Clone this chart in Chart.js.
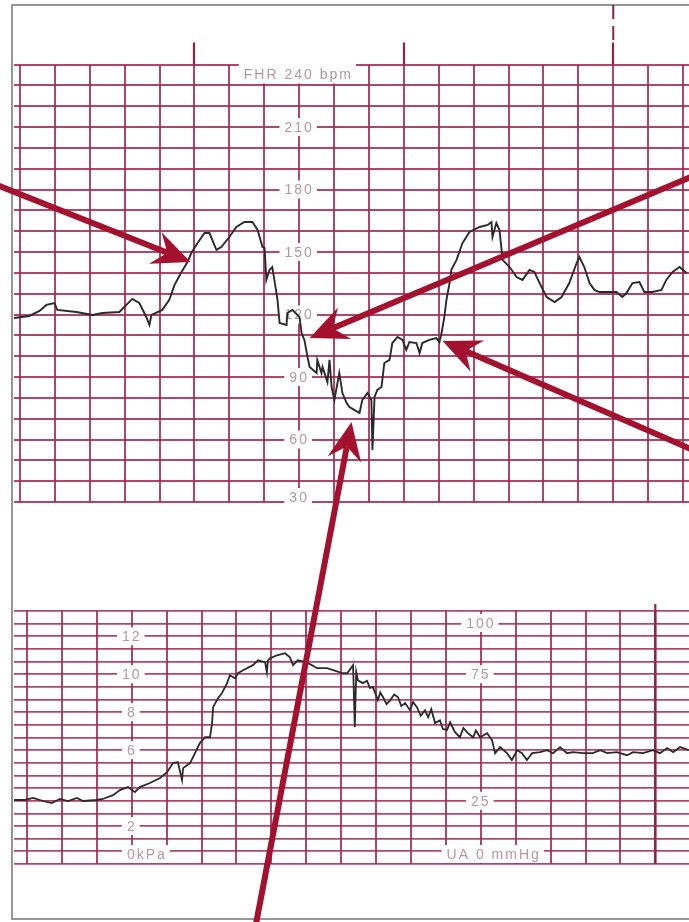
<!DOCTYPE html>
<html>
<head>
<meta charset="utf-8">
<script src="https://cdn.jsdelivr.net/npm/chart.js@4.4.1/dist/chart.umd.min.js"></script>
<style>
html, body { margin: 0; padding: 0; background: #fff; overflow: hidden; }
#page { position: relative; width: 689px; height: 922px; overflow: hidden; }
#frame { position: absolute; left: 11px; top: 4px; width: 760px; height: 916px; border: 2px solid #969696; box-sizing: border-box; }
canvas { position: absolute; left: 0; }
#fhr { top: 0; }
#ua { top: 590px; }
#arrows { top: 0; pointer-events: none; }
</style>
</head>
<body>
<div id="page">
  <div id="frame"></div>
  <canvas id="fhr" width="689" height="520"></canvas>
  <canvas id="ua" width="689" height="290"></canvas>
  <canvas id="arrows" width="689" height="922"></canvas>
</div>
<script>
// fetal heart rate trace: [seconds, bpm]
const fhrTrace = [
  [8.3,118.3],[12.7,119.3],[15.6,121.7],[17.6,124.6],[19.9,125.5],[20.7,122.2],[26.2,121.2],
  [30.8,119.8],[33.6,120.7],[38.5,121.2],[40.5,124.6],[42.2,127.5],[44.2,125.5],[46.2,118.8],
  [47.1,115.0],[47.7,119.8],[50.8,122.2],[52.8,127.0],[54.3,134.2],[56.3,140.4],[58.0,145.2],
  [59.1,149.5],[60.9,154.3],[62.9,159.1],[64.3,159.1],[66.3,151.0],[67.7,152.4],[70.0,157.2],
  [72.0,162.0],[74.3,164.4],[76.6,164.4],[78.1,160.6],[79.5,152.4],[80.1,151.9],[80.6,136.6],
  [81.5,141.4],[82.3,142.8],[82.9,136.6],[83.8,127.0],[84.4,115.9],[86.4,115.0],[86.6,120.7],
  [88.1,122.2],[90.1,118.8],[90.7,111.1],[91.5,107.8],[92.4,99.6],[93.0,94.8],[95.0,91.9],
  [95.2,98.2],[96.4,91.9],[96.7,94.8],[98.1,87.6],[98.7,98.2],[99.3,85.2],[100.1,79.0],
  [101.5,91.9],[102.4,82.3],[103.6,77.5],[104.4,75.6],[105.8,74.2],[107.3,72.7],[108.1,79.0],
  [109.6,82.3],[110.7,79.0],[111.0,55.0],[111.6,80.4],[112.4,83.8],[113.6,85.2],[114.4,96.7],
  [115.9,98.2],[116.7,106.3],[118.2,109.2],[119.6,107.8],[120.7,103.0],[121.6,106.8],[123.6,106.3],
  [124.5,101.5],[125.3,106.3],[127.3,107.8],[129.3,108.7],[130.2,106.8],[130.8,111.1],[131.6,118.8],
  [132.2,127.0],[133.1,135.1],[133.6,141.4],[135.1,146.2],[136.8,154.3],[138.8,159.6],[141.7,162.0],
  [144.0,163.0],[145.1,164.4],[145.4,157.2],[146.5,163.9],[147.4,160.6],[148.3,146.2],[150.3,142.8],
  [152.3,138.0],[154.0,136.6],[156.0,141.4],[157.4,140.4],[158.9,135.1],[160.9,128.4],[163.2,126.0],
  [165.2,128.4],[167.4,135.1],[169.5,144.7],[170.3,147.6],[171.7,142.8],[173.2,135.1],[174.6,131.8],
  [176.0,130.8],[180.9,130.8],[182.6,128.4],[183.8,130.3],[185.5,135.1],[187.5,135.6],[188.9,130.8],
  [191.2,130.8],[193.8,131.8],[195.2,136.6],[197.0,140.4],[199.0,142.8],[201.0,139.9]
];

// uterine activity trace: [seconds, mmHg]
const uaTrace = [
  [-3.8,25.3],[-0.6,25.3],[1.7,26.1],[4.6,24.9],[7.1,24.1],[9.4,25.7],[11.7,24.9],[14.3,26.1],
  [16.0,24.9],[20.0,25.3],[21.7,25.7],[24.6,27.2],[26.6,29.2],[28.9,30.4],[30.9,28.4],[32.3,30.4],
  [35.2,32.0],[38.1,34.0],[40.1,36.3],[41.8,39.9],[43.2,40.3],[44.4,33.2],[44.7,37.9],[46.7,39.9],
  [48.1,43.8],[49.5,47.8],[51.0,50.1],[52.4,50.1],[53.0,55.7],[53.3,62.0],[54.7,65.5],[55.8,67.5],
  [57.3,71.5],[58.1,74.6],[59.6,73.4],[60.4,75.4],[61.9,76.6],[64.7,78.6],[66.2,80.5],[68.2,79.7],
  [68.7,75.8],[69.0,80.5],[69.6,81.3],[71.6,82.5],[73.9,83.3],[75.3,81.7],[76.2,78.6],[77.6,80.5],
  [80.2,79.7],[83.1,77.4],[85.9,77.4],[87.7,76.6],[90.5,75.4],[91.7,75.4],[93.4,78.6],[93.9,54.1],
  [94.3,76.0],[94.8,72.6],[96.2,71.5],[97.4,72.4],[98.2,69.6],[99.1,69.9],[100.5,64.7],[101.2,67.8],
  [102.0,65.9],[103.0,63.2],[104.0,64.7],[105.2,67.0],[106.3,65.9],[107.2,62.4],[108.3,63.6],[109.7,60.8],
  [110.6,64.0],[111.7,62.0],[112.8,58.6],[114.0,60.8],[114.9,58.0],[115.8,61.2],[116.9,55.7],[118.3,56.8],
  [119.1,53.4],[120.3,52.9],[121.2,56.0],[122.6,52.1],[124.0,50.1],[125.0,53.8],[126.3,51.7],[127.8,50.1],
  [128.6,52.8],[129.8,50.1],[131.8,51.7],[133.2,49.0],[134.1,43.8],[135.5,46.2],[137.5,43.8],[138.9,41.1],
  [140.4,45.0],[141.8,43.8],[143.2,41.1],[144.7,43.8],[147.0,44.2],[149.0,45.0],[150.7,43.8],[152.7,46.2],
  [154.7,43.8],[156.4,44.2],[159.3,43.8],[162.1,43.8],[164.2,45.0],[166.2,43.8],[169.0,44.2],[171.9,43.0],
  [173.6,44.2],[176.5,43.8],[179.3,45.0],[181.3,43.8],[183.4,45.8],[185.1,44.2],[187.1,46.2],[189.6,45.0]
];

// printed scale labels
const fhrLabelValues = [240, 210, 180, 150, 120, 90, 60, 30];
const uaKpaLabelValues = [12, 10, 8, 6, 2, 0];
const uaMmHgLabelValues = [100, 75, 25, 0];
const kpaToMmHg = 7.5;

// time marks (seconds)
const fhrLabelColumn = 90;
const uaKpaColumn = 30;
const uaMmHgColumn = 130;
const fhrMajorTimes = [60, 120, 180];
const fhrMarkerTime = 180;
const uaMajorTimes = [180];

// annotation arrows in FHR coordinates: [seconds, bpm]
const arrowTails = [[1.3, 183.6], [204.7, 187.8], [204.7, 53.6], [77.3, -175.5]];
const arrowTips = [[58.9, 145.2], [93.0, 108.7], [131.1, 107.3], [105.0, 68.4]];

const gridColor = 'rgba(162, 38, 80, 0.85)';
const majorColor = 'rgba(132, 24, 62, 0.95)';
const labelColor = '#b3989f';
const traceColor = '#2a2a2a';
const arrowColor = '#a3112f';
const labelFont = '14px "Liberation Sans", Arial, sans-serif';

const scaleText = {
    id: 'scaleText',
    beforeDatasetsDraw(chart, args, opts) {
        const { ctx, chartArea: area } = chart;
        const xs = chart.scales.x, ys = chart.scales.y;
        ctx.save();
        ctx.font = labelFont;
        ctx.letterSpacing = '2px';
        ctx.textBaseline = 'middle';
        ctx.textAlign = 'left';
        opts.columns.forEach(col => {
            const cx = xs.getPixelForValue(col.time);
            col.labels.forEach(lab => {
                const raw = ys.getPixelForValue(lab.value);
                const cy = Math.min(area.bottom - opts.insetBottom, Math.max(area.top + opts.insetTop, raw));
                const pre = lab.pre || '', post = lab.post || '';
                const wPre = ctx.measureText(pre).width;
                const wMain = ctx.measureText(lab.text).width;
                const wPost = ctx.measureText(post).width;
                const left = cx - wMain / 2 - wPre;
                let top = cy - 9, bottom = cy + 9;
                if (opts.coverEdge) {
                    if (raw <= area.top + 1) top = area.top - 2;
                    if (raw >= area.bottom - 1) bottom = area.bottom + 2;
                }
                ctx.fillStyle = '#fff';
                ctx.fillRect(left - 5, top, wPre + wMain + wPost + 8, bottom - top);
                ctx.fillStyle = labelColor;
                ctx.fillText(pre + lab.text + post, left, cy + 1);
            });
        });
        ctx.restore();
    },
    afterDraw(chart, args, opts) {
        if (opts.markerTime === undefined) return;
        const { ctx, chartArea: area } = chart;
        const x = chart.scales.x.getPixelForValue(opts.markerTime);
        ctx.save();
        ctx.strokeStyle = majorColor;
        ctx.lineWidth = 2;
        ctx.setLineDash([14, 7]);
        ctx.beginPath();
        ctx.moveTo(x, 5);
        ctx.lineTo(x, area.top - 22);
        ctx.stroke();
        ctx.restore();
    }
};

// majors get a tick mark above the grid; boldInside also thickens the line in the grid
function gridOptions(majors, tickLength, boldInside) {
    const isMajor = ctx => ctx.tick && majors.includes(ctx.tick.value);
    return {
        color: ctx => (boldInside && isMajor(ctx)) ? majorColor : gridColor,
        lineWidth: ctx => (boldInside && isMajor(ctx)) ? 2.6 : 2,
        drawTicks: true,
        tickLength: tickLength,
        tickColor: ctx => isMajor(ctx) ? majorColor : 'rgba(0,0,0,0)',
        tickWidth: 2.2,
    };
}

const fhrChart = new Chart(document.getElementById('fhr'), {
    type: 'line',
    data: {
        datasets: [{
            data: fhrTrace.map(p => ({ x: p[0], y: p[1] })),
            borderColor: traceColor,
            borderWidth: 1.9,
            pointRadius: 0,
            tension: 0,
        }],
    },
    options: {
        responsive: false,
        animation: false,
        events: [],
        layout: { padding: { left: 14, top: 42.5, right: 0, bottom: 18 } },
        plugins: {
            legend: { display: false },
            tooltip: { enabled: false },
            scaleText: {
                insetTop: 10,
                insetBottom: 5,
                coverEdge: true,
                markerTime: fhrMarkerTime,
                columns: [{
                    time: fhrLabelColumn,
                    labels: fhrLabelValues.map((v, i) => ({
                        value: v,
                        text: String(v),
                        pre: i === 0 ? 'FHR ' : '',
                        post: i === 0 ? ' bpm' : '',
                    })),
                }],
            },
        },
        scales: {
            x: {
                type: 'linear',
                position: 'top',
                min: 8.3,
                max: 201.7,
                ticks: { display: false, stepSize: 10, includeBounds: false },
                border: { display: false },
                grid: gridOptions(fhrMajorTimes, 22, false),
            },
            y: {
                min: 30,
                max: 240,
                ticks: { display: false, stepSize: 10 },
                border: { display: false },
                grid: { color: gridColor, lineWidth: 2, drawTicks: false },
            },
        },
    },
    plugins: [scaleText],
});

new Chart(document.getElementById('ua'), {
    type: 'line',
    data: {
        datasets: [{
            data: uaTrace.map(p => ({ x: p[0], y: p[1] })),
            borderColor: traceColor,
            borderWidth: 1.8,
            pointRadius: 0,
            tension: 0,
        }],
    },
    options: {
        responsive: false,
        animation: false,
        events: [],
        layout: { padding: { left: 14, top: 14, right: 0, bottom: 16 } },
        plugins: {
            legend: { display: false },
            tooltip: { enabled: false },
            scaleText: {
                insetTop: 12,
                insetBottom: 10,
                coverEdge: false,
                columns: [
                    {
                        time: uaKpaColumn,
                        labels: uaKpaLabelValues.map(v => ({
                            value: v * kpaToMmHg,
                            text: String(v),
                            post: v === 0 ? 'kPa' : '',
                        })),
                    },
                    {
                        time: uaMmHgColumn,
                        labels: uaMmHgLabelValues.map(v => ({
                            value: v,
                            text: String(v),
                            pre: v === 0 ? 'UA ' : '',
                            post: v === 0 ? ' mmHg' : '',
                        })),
                    },
                ],
            },
        },
        scales: {
            x: {
                type: 'linear',
                position: 'top',
                min: -3.75,
                max: 189.65,
                ticks: { display: false, stepSize: 10, includeBounds: false },
                border: { display: false },
                grid: gridOptions(uaMajorTimes, 7, true),
            },
            y: {
                min: 0,
                max: 100,
                ticks: { display: false, stepSize: 5 },
                border: { display: false },
                grid: { color: gridColor, lineWidth: 1.8, drawTicks: false },
            },
        },
    },
    plugins: [scaleText],
});

// arrows on top of both panels, placed through the FHR scales
const ov = document.getElementById('arrows').getContext('2d');
const sx = fhrChart.scales.x, sy = fhrChart.scales.y;
arrowTails.forEach((tail, i) => {
    const tip = arrowTips[i];
    const x0 = sx.getPixelForValue(tail[0]), y0 = sy.getPixelForValue(tail[1]);
    const x1 = sx.getPixelForValue(tip[0]), y1 = sy.getPixelForValue(tip[1]);
    const ang = Math.atan2(y1 - y0, x1 - x0);
    const ux = Math.cos(ang), uy = Math.sin(ang), nx = -uy, ny = ux;
    const len = 38, half = 17, notch = 25;
    ov.strokeStyle = arrowColor;
    ov.lineWidth = 6;
    ov.beginPath();
    ov.moveTo(x0, y0);
    ov.lineTo(x1 - ux * notch, y1 - uy * notch);
    ov.stroke();
    ov.fillStyle = arrowColor;
    ov.beginPath();
    ov.moveTo(x1, y1);
    ov.lineTo(x1 - ux * len + nx * half, y1 - uy * len + ny * half);
    ov.lineTo(x1 - ux * notch, y1 - uy * notch);
    ov.lineTo(x1 - ux * len - nx * half, y1 - uy * len - ny * half);
    ov.closePath();
    ov.fill();
});
</script>
</body>
</html>
